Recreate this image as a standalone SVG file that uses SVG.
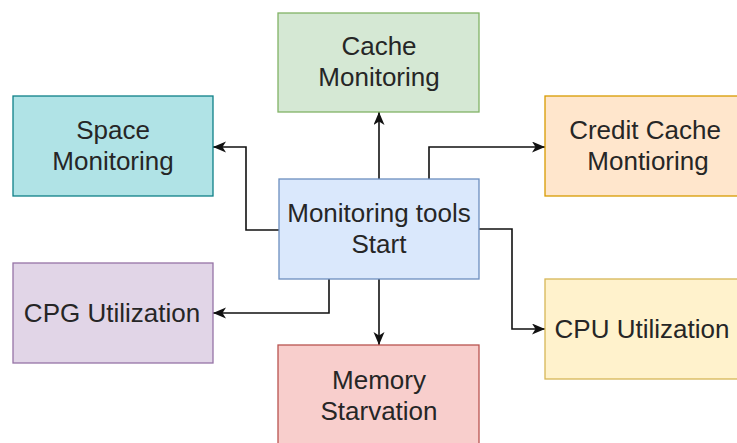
<svg xmlns="http://www.w3.org/2000/svg" width="737" height="443" viewBox="0 0 737 443">
<style>
.box{stroke-width:1.3}
.t{font-family:"Liberation Sans",Arial,sans-serif;font-size:26px;fill:#262626;text-anchor:middle}
.c{fill:none;stroke:#111;stroke-width:1.6}
</style>
<defs>
<marker id="ah" markerUnits="userSpaceOnUse" markerWidth="16" markerHeight="14" refX="13" refY="5.5" orient="auto">
<path d="M0,0 L13,5.5 L0,11 L3.5,5.5 Z" fill="#111"/>
</marker>
</defs>
<rect width="737" height="443" fill="#ffffff"/>
<g id="connectors">
<path class="c" d="M379,179 V112" marker-end="url(#ah)"/>
<path class="c" d="M279,230 H246 V147 H213" marker-end="url(#ah)"/>
<path class="c" d="M429,179 V147 H545" marker-end="url(#ah)"/>
<path class="c" d="M479,229 H512 V329 H545" marker-end="url(#ah)"/>
<path class="c" d="M329,279 V313 H213" marker-end="url(#ah)"/>
<path class="c" d="M379,279 V345" marker-end="url(#ah)"/>
</g>
<g id="cache">
<rect class="box" x="278" y="13" width="201" height="99" fill="#d5e8d4" stroke="#82b366"/>
<text class="t" x="379" y="55">Cache</text>
<text class="t" x="379" y="86">Monitoring</text>
</g>
<g id="space">
<rect class="box" x="13" y="96" width="200" height="100" fill="#b0e3e6" stroke="#0e8088"/>
<text class="t" x="113" y="139">Space</text>
<text class="t" x="113" y="170">Monitoring</text>
</g>
<g id="credit">
<rect class="box" x="545" y="96" width="200" height="100" fill="#ffe6cc" stroke="#d79b00"/>
<text class="t" x="645" y="139">Credit Cache</text>
<text class="t" x="648" y="170">Montioring</text>
</g>
<g id="start">
<rect class="box" x="279" y="179" width="200" height="100" fill="#dae8fc" stroke="#6c8ebf"/>
<text class="t" x="379" y="222">Monitoring tools</text>
<text class="t" x="379" y="253">Start</text>
</g>
<g id="cpg">
<rect class="box" x="13" y="263" width="200" height="100" fill="#e1d5e7" stroke="#9673a6"/>
<text class="t" x="112" y="322">CPG Utilization</text>
</g>
<g id="cpu">
<rect class="box" x="545" y="279" width="200" height="100" fill="#fff2cc" stroke="#d6b656"/>
<text class="t" x="642" y="338">CPU Utilization</text>
</g>
<g id="memory">
<rect class="box" x="278" y="345" width="201" height="100" fill="#f8cecc" stroke="#b85450"/>
<text class="t" x="379" y="389">Memory</text>
<text class="t" x="379" y="420">Starvation</text>
</g>
</svg>
